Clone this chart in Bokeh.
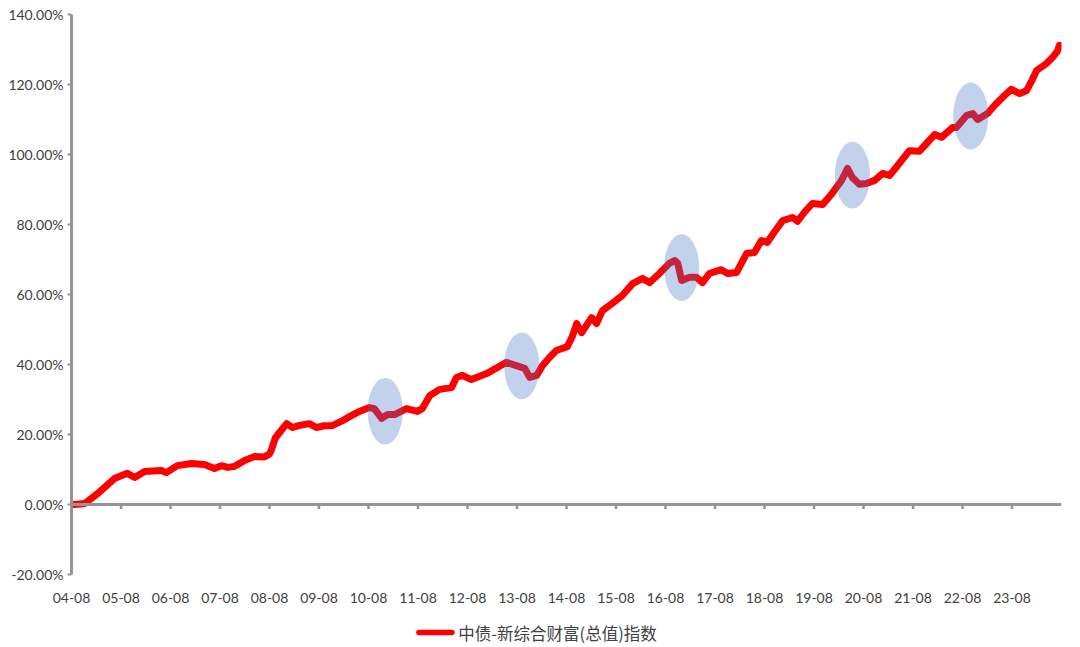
from bokeh.plotting import figure
from bokeh.layouts import column
from bokeh.core.properties import value
from bokeh.models import (FixedTicker, NumeralTickFormatter, CustomJSTickFormatter,
                          Span, ColumnDataSource)
from bokeh.embed import file_html
from bokeh.resources import INLINE

# ---- data (decimal years, cumulative return in %) ----
series_name = "中债-新综合财富(总值)指数"
years = [2004.58, 2004.64, 2004.85, 2005.11, 2005.45, 2005.71, 2005.86, 2006.06, 2006.40, 2006.50,
         2006.72, 2007.01, 2007.27, 2007.47, 2007.61, 2007.74, 2007.88, 2008.08, 2008.28, 2008.48,
         2008.58, 2008.62, 2008.70, 2008.81, 2008.93, 2009.05, 2009.19, 2009.39, 2009.53, 2009.69,
         2009.86, 2010.04, 2010.20, 2010.40, 2010.60, 2010.70, 2010.85, 2010.97, 2011.11, 2011.35,
         2011.57, 2011.67, 2011.82, 2012.02, 2012.26, 2012.36, 2012.48, 2012.66, 2012.97, 2013.23,
         2013.37, 2013.57, 2013.74, 2013.84, 2013.98, 2014.10, 2014.24, 2014.38, 2014.60, 2014.70,
         2014.79, 2014.89, 2015.09, 2015.19, 2015.31, 2015.51, 2015.71, 2015.92, 2016.12, 2016.26,
         2016.46, 2016.66, 2016.77, 2016.83, 2016.91, 2017.07, 2017.21, 2017.33, 2017.47, 2017.71,
         2017.84, 2018.02, 2018.22, 2018.38, 2018.52, 2018.64, 2018.79, 2018.95, 2019.15, 2019.25,
         2019.39, 2019.55, 2019.76, 2019.96, 2020.14, 2020.26, 2020.36, 2020.50, 2020.64, 2020.81,
         2020.97, 2021.11, 2021.31, 2021.51, 2021.71, 2021.88, 2022.02, 2022.16, 2022.38, 2022.46,
         2022.66, 2022.79, 2022.89, 2023.09, 2023.23, 2023.39, 2023.57, 2023.74, 2023.88, 2023.98,
         2024.08, 2024.28, 2024.40, 2024.50, 2024.54]
values = [0.0, 0.0, 0.3, 3.1, 7.4, 8.9, 7.7, 9.4, 9.7, 9.1,
          11.1, 11.7, 11.4, 10.3, 11.1, 10.6, 10.9, 12.6, 13.7, 13.6,
          14.4, 15.5, 19.0, 21.0, 23.1, 22.0, 22.6, 23.1, 22.0, 22.5,
          22.6, 23.8, 25.1, 26.6, 27.7, 27.4, 24.6, 25.7, 25.7, 27.4,
          26.6, 27.4, 31.1, 32.9, 33.4, 36.3, 36.9, 35.7, 37.4, 39.5,
          40.6, 39.7, 38.9, 36.3, 36.9, 39.7, 42.0, 44.0, 45.1, 48.0,
          51.7, 49.1, 53.4, 51.7, 55.4, 57.5, 59.7, 63.1, 64.6, 63.4,
          66.0, 68.9, 69.7, 68.9, 64.0, 64.9, 64.9, 63.4, 66.0, 67.1,
          66.0, 66.3, 71.7, 72.0, 75.4, 74.9, 78.0, 81.1, 82.0, 80.9,
          83.5, 86.0, 85.7, 89.1, 92.6, 96.0, 93.4, 91.5, 91.7, 92.6,
          94.6, 94.0, 97.5, 101.1, 100.9, 103.5, 105.7, 104.9, 107.7, 107.7,
          111.1, 111.7, 110.0, 111.7, 114.0, 116.3, 118.6, 117.4, 118.3, 121.0,
          124.0, 126.0, 127.7, 129.5, 131.2]

# highlighted drawdown episodes (centre year, centre value %)
highlight_years = [2010.92, 2013.68, 2016.91, 2020.36, 2022.75]
highlight_values = [26.7, 39.6, 67.7, 94.1, 111.0]

tick_years = [2004 + 7 / 12 + k for k in range(20)]
y_ticks = [-0.2, 0.0, 0.2, 0.4, 0.6, 0.8, 1.0, 1.2, 1.4]

AXIS_GRAY = "#959595"
TEXT = "#404040"
LINE_RED = "#ff0000"
LINE_W = 7

p = figure(width=1080, height=612, output_backend="svg", toolbar_location=None,
           x_range=(2004 + 7 / 12, 2024 + 7 / 12), y_range=(-0.2, 1.4),
           min_border_left=71, min_border_right=19, min_border_top=14, min_border_bottom=38)
p.outline_line_color = None
p.xgrid.visible = False
p.ygrid.visible = False
p.background_fill_color = "white"
p.border_fill_color = "white"

# y axis
p.yaxis.ticker = FixedTicker(ticks=y_ticks)
p.yaxis.formatter = NumeralTickFormatter(format="0.00%")
p.yaxis.axis_line_color = AXIS_GRAY
p.yaxis.axis_line_width = 3
p.yaxis.major_tick_line_color = AXIS_GRAY
p.yaxis.major_tick_line_width = 2
p.yaxis.major_tick_out = 4
p.yaxis.major_tick_in = 0
p.yaxis.minor_tick_line_color = None
p.yaxis.major_label_standoff = 4
p.yaxis.major_label_text_font = "Lato"
p.yaxis.major_label_text_font_size = "14px"
p.yaxis.major_label_text_color = TEXT

# x axis (labels only, at the bottom)
p.xaxis.ticker = FixedTicker(ticks=tick_years)
p.xaxis.formatter = CustomJSTickFormatter(code="""
    const y = Math.round(tick - 7/12);
    return String(y % 100).padStart(2, '0') + '-08';
""")
p.xaxis.axis_line_color = None
p.xaxis.major_tick_line_color = None
p.xaxis.minor_tick_line_color = None
p.xaxis.major_label_standoff = 12
p.xaxis.major_label_text_font = "Lato"
p.xaxis.major_label_text_font_size = "14px"
p.xaxis.major_label_text_color = TEXT

# horizontal axis line at 0 with tick marks
p.add_layout(Span(location=0, dimension="width", line_color=AXIS_GRAY, line_width=3))
tick_len = 0.013
p.segment(x0=tick_years[1:], y0=[0] * 19, x1=tick_years[1:], y1=[-tick_len] * 19,
          line_color=AXIS_GRAY, line_width=2.5)

# the series
src = ColumnDataSource(dict(x=years, y=[v / 100 for v in values]))
p.line("x", "y", source=src, line_color=LINE_RED, line_width=LINE_W,
       line_join="round", line_cap="round")

# highlight ellipses
p.ellipse(x=highlight_years, y=[v / 100 for v in highlight_values],
          width=0.71, height=0.191, fill_color="#4472C4", fill_alpha=0.32, line_color=None)

# ---- legend strip below the chart ----
lg = figure(width=1080, height=35, output_backend="svg", toolbar_location=None,
            x_range=(0, 1080), y_range=(0, 35),
            x_axis_location=None, y_axis_location=None,
            min_border_left=0, min_border_right=0, min_border_top=0, min_border_bottom=0)
lg.xgrid.visible = False
lg.ygrid.visible = False
lg.outline_line_color = None
lg.background_fill_color = "white"
lg.border_fill_color = "white"
lg.segment(x0=[379], y0=[15], x1=[415], y1=[15], line_color=LINE_RED,
           line_width=5.5, line_cap="round")
lg.text(x=[422], y=[15], text=[series_name], text_font=value("Noto Sans CJK SC"),
        text_font_size="16.5px", text_color=TEXT, text_baseline="middle", text_align="left")

layout = column(p, lg, spacing=0)
open("out.html", "w").write(file_html(layout, INLINE))
